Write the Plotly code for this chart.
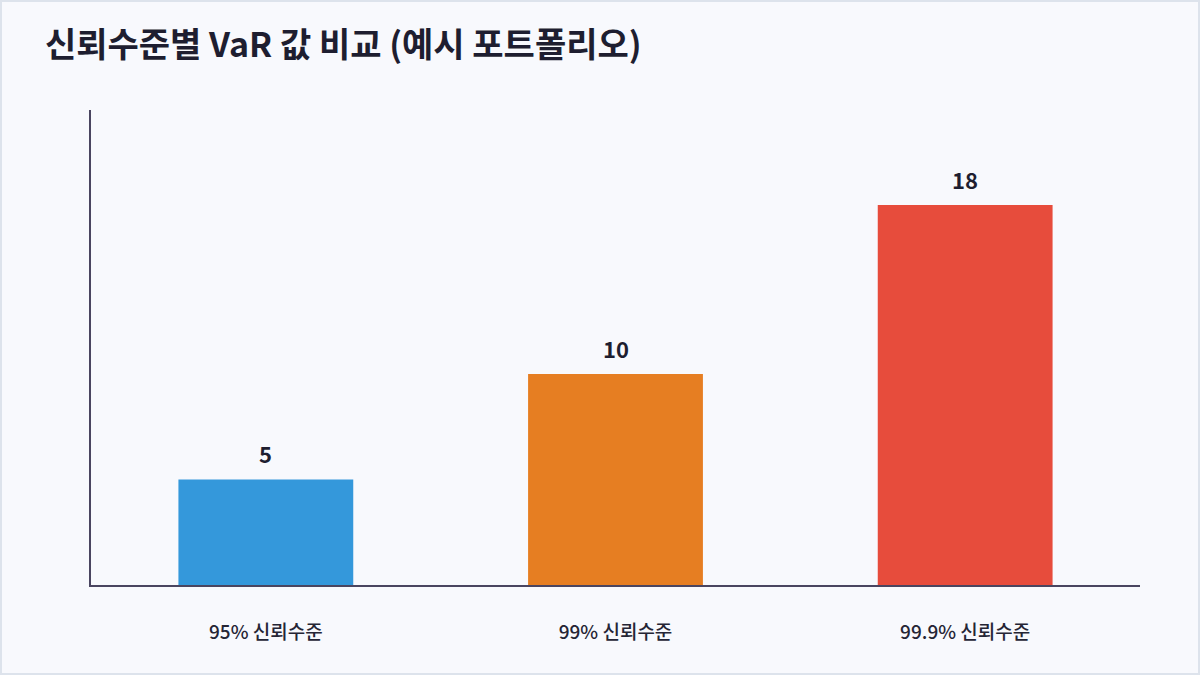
import plotly.graph_objects as go

# data
levels = ["95% 신뢰수준", "99% 신뢰수준", "99.9% 신뢰수준"]
var_values = [5, 10, 18]
bar_colors = ["#3498db", "#e67e22", "#e74c3c"]

TITLE = "신뢰수준별 VaR 값 비교 (예시 포트폴리오)"
FONT = "Noto Sans CJK KR"
W, H = 1200, 675
M_L, M_R, M_T, M_B = 91, 60, 110, 90


def build_figure() -> go.Figure:
    fig = go.Figure()
    fig.add_trace(
        go.Bar(
            x=levels,
            y=var_values,
            marker=dict(color=bar_colors, line=dict(width=0)),
            hoverinfo="x+y",
        )
    )

    # value labels above the bars
    for lvl, val in zip(levels, var_values):
        fig.add_annotation(
            x=lvl, y=val,
            text=str(val),
            showarrow=False,
            yanchor="bottom",
            yshift=8,
            font=dict(family=FONT, size=22, color="#1e1e30", weight="bold"),
        )

    # page border
    plot_w = W - M_L - M_R
    plot_h = H - M_T - M_B
    fig.add_shape(
        type="rect",
        xref="paper", yref="paper",
        x0=-(M_L - 1) / plot_w, x1=1 + (M_R - 1) / plot_w,
        y0=-(M_B - 1) / plot_h, y1=1 + (M_T - 1) / plot_h,
        line=dict(color="#dde3ec", width=2),
        fillcolor="rgba(0,0,0,0)",
        layer="below",
    )

    fig.update_xaxes(
        showline=True,
        linecolor="#4a4560",
        linewidth=1.5,
        showgrid=False,
        ticks="",
        ticklabelstandoff=29,
        tickfont=dict(family=FONT, size=19, color="#252535", weight=500),
    )
    fig.update_yaxes(
        range=[0, max(var_values) * 1.25],
        showline=True,
        linecolor="#4a4560",
        linewidth=1.5,
        showgrid=False,
        zeroline=False,
        showticklabels=False,
        ticks="",
    )

    fig.update_layout(
        width=W,
        height=H,
        margin=dict(l=M_L, r=M_R, t=M_T, b=M_B),
        paper_bgcolor="#f8f9fd",
        plot_bgcolor="#f8f9fd",
        bargap=0.5,
        showlegend=False,
        font=dict(family=FONT),
        title=dict(
            text=TITLE,
            font=dict(family=FONT, size=34, color="#1e1e30", weight="bold"),
            xref="container", yref="container",
            x=45 / W, xanchor="left",
            y=1 - 45 / H, yanchor="middle",
        ),
    )
    return fig


def main():
    fig = build_figure()
    fig.write_html(
        "out.html",
        config={"displayModeBar": False},
        post_script="document.body.style.margin='0';",
    )


if __name__ == "__main__":
    main()
